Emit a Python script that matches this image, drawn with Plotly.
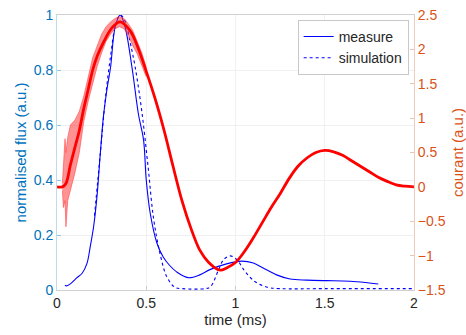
import plotly.graph_objects as go

# ---- data ----
t_measure = [0.045, 0.052, 0.08, 0.11, 0.14, 0.168, 0.186, 0.205, 0.224, 0.243, 0.26, 0.28, 0.30, 0.326, 0.354,
             0.38, 0.42, 0.456, 0.485, 0.50, 0.522, 0.56, 0.595, 0.63, 0.67, 0.735, 0.8, 0.86, 0.95, 1.035,
             1.1, 1.155, 1.23, 1.306, 1.4, 1.51, 1.6, 1.68, 1.8]
flux_measure = [0.018, 0.015, 0.025, 0.044, 0.06, 0.097, 0.157, 0.23, 0.34, 0.50, 0.63, 0.73, 0.81, 0.957, 1.0,
                0.96, 0.81, 0.64, 0.545, 0.40, 0.28, 0.17, 0.12, 0.09, 0.066, 0.045, 0.055, 0.075, 0.095, 0.105,
                0.098, 0.08, 0.055, 0.04, 0.036, 0.034, 0.033, 0.03, 0.022]

t_sim = [0.21, 0.243, 0.27, 0.30, 0.33, 0.354, 0.38, 0.41, 0.438, 0.475, 0.51, 0.54, 0.578, 0.616, 0.66,
         0.7, 0.83, 0.86, 0.905, 0.933, 0.97, 1.008, 1.054, 1.11, 1.18, 1.25, 1.5, 2.0]
flux_sim = [0.27, 0.50, 0.69, 0.85, 0.97, 1.0, 0.98, 0.9, 0.81, 0.65, 0.45, 0.265, 0.13, 0.047, 0.01,
            0.005, 0.005, 0.012, 0.073, 0.11, 0.124, 0.11, 0.067, 0.03, 0.01, 0.005, 0.005, 0.005]

t_courant = [0.0, 0.03, 0.05, 0.075, 0.1, 0.125, 0.15, 0.175, 0.2, 0.225, 0.26, 0.31, 0.354, 0.41, 0.45, 0.5,
             0.55, 0.6, 0.65, 0.7, 0.75, 0.8, 0.85, 0.9, 0.92, 0.95, 1.0, 1.05, 1.1, 1.15, 1.2, 1.25, 1.3,
             1.35, 1.4, 1.45, 1.5, 1.55, 1.6, 1.65, 1.7, 1.75, 1.8, 1.85, 1.9, 1.95, 2.0]
courant = [0.0, 0.0, 0.05, 0.32, 0.57, 0.82, 1.14, 1.42, 1.7, 1.9, 2.1, 2.32, 2.40, 2.27, 2.05, 1.68,
           1.28, 0.82, 0.3, -0.2, -0.6, -0.92, -1.1, -1.2, -1.21, -1.18, -1.1, -0.94, -0.74, -0.52, -0.3, -0.1, 0.12,
           0.3, 0.42, 0.5, 0.53, 0.51, 0.46, 0.38, 0.3, 0.22, 0.14, 0.08, 0.03, 0.01, 0.0]

# envelope of the noisy part of the courant signal
t_noise = [0.03, 0.036, 0.045, 0.05, 0.06, 0.075, 0.1, 0.125, 0.15, 0.175, 0.2, 0.225, 0.25, 0.275, 0.3,
           0.325, 0.35, 0.375, 0.4, 0.425, 0.45, 0.475, 0.5]
noise_upper = [0.05, 0.3, 0.7, 0.5, 0.72, 0.9, 0.97, 1.1, 1.32, 1.6, 1.88, 2.05, 2.22, 2.33, 2.4,
               2.45, 2.48, 2.45, 2.37, 2.27, 2.12, 1.95, 1.74]
noise_lower = [-0.05, -0.3, -0.2, -0.58, -0.2, -0.05, 0.2, 0.5, 0.95, 1.25, 1.5, 1.75, 1.95, 2.12, 2.22,
               2.3, 2.33, 2.3, 2.2, 2.05, 1.93, 1.77, 1.6]

BLUE = "#0072BD"
ORANGE = "#D95319"
FONT = "Liberation Sans, Arial, sans-serif"

fig = go.Figure()

# noisy band of the courant
fig.add_trace(go.Scatter(x=t_noise, y=noise_lower, yaxis="y2", mode="lines",
                         line=dict(width=0, color="rgba(255,0,0,0)"), showlegend=False, hoverinfo="skip"))
fig.add_trace(go.Scatter(x=t_noise, y=noise_upper, yaxis="y2", mode="lines", fill="tonexty",
                         fillcolor="rgba(255,40,40,0.5)",
                         line=dict(width=1, color="rgba(255,60,60,0.55)"), showlegend=False, hoverinfo="skip"))
fig.add_trace(go.Scatter(x=t_noise, y=noise_lower, yaxis="y2", mode="lines",
                         line=dict(width=1, color="rgba(255,60,60,0.55)"), showlegend=False, hoverinfo="skip"))
# courant
fig.add_trace(go.Scatter(x=t_courant, y=courant, yaxis="y2", mode="lines", line_shape="spline",
                         line=dict(color="#FF0000", width=2.8), showlegend=False))

# flux
fig.add_trace(go.Scatter(x=t_measure, y=flux_measure, mode="lines", name="measure", line_shape="spline",
                         line=dict(color="#0000FF", width=1.1)))
fig.add_trace(go.Scatter(x=t_sim, y=flux_sim, mode="lines", name="simulation", line_shape="spline",
                         line=dict(color="#0000FF", width=1.1, dash="3px,3px")))

fig.update_layout(
    width=466, height=335,
    margin=dict(l=57, r=52, t=15, b=45, autoexpand=False),
    paper_bgcolor="white", plot_bgcolor="white",
    font=dict(family=FONT, size=14, color="#262626"),
    xaxis=dict(range=[0, 2], dtick=0.5, tickformat="~g", ticks="inside", ticklen=4, tickcolor="#cccccc",
               showline=True, linecolor="#d0d0d0", linewidth=1, mirror=True, automargin=False,
               showgrid=True, gridcolor="#f0f0f0", zeroline=False,
               title=dict(text="time (ms)", font=dict(size=15, color="#262626"), standoff=4),
               tickfont=dict(size=14, color="#262626")),
    yaxis=dict(range=[0, 1], dtick=0.2, tickformat="~g", ticks="inside", ticklen=4,
               tickcolor="rgba(0,114,189,0.35)", automargin=False,
               showline=True, linecolor="rgba(0,114,189,0.25)", linewidth=1,
               showgrid=True, gridcolor="#f0f0f0", zeroline=False,
               tickfont=dict(size=14, color=BLUE)),
    yaxis2=dict(range=[-1.5, 2.5], dtick=0.5, tickformat="~g", overlaying="y", side="right",
                ticks="inside", ticklen=4, tickcolor="rgba(217,83,25,0.35)", automargin=False,
                showline=True, linecolor="rgba(217,83,25,0.3)", linewidth=1,
                showgrid=False, zeroline=False,
                title=dict(text="courant (a.u.)", font=dict(size=15, color=ORANGE), standoff=8),
                tickfont=dict(size=14, color=ORANGE)),
    legend=dict(x=0.985, y=0.982, xanchor="right", yanchor="top", traceorder="normal",
                bgcolor="white", bordercolor="#c8c8c8", borderwidth=1,
                font=dict(size=14, color="#262626"), itemwidth=30,
                tracegroupgap=0),
    showlegend=True,
    annotations=[dict(text="normalised flux (a.u.)", xref="paper", yref="paper", x=-0.101, y=0.5,
                      xanchor="center", yanchor="middle", textangle=-90, showarrow=False,
                      font=dict(size=15, color=BLUE, family=FONT))],
)

fig.write_html("out.html")
